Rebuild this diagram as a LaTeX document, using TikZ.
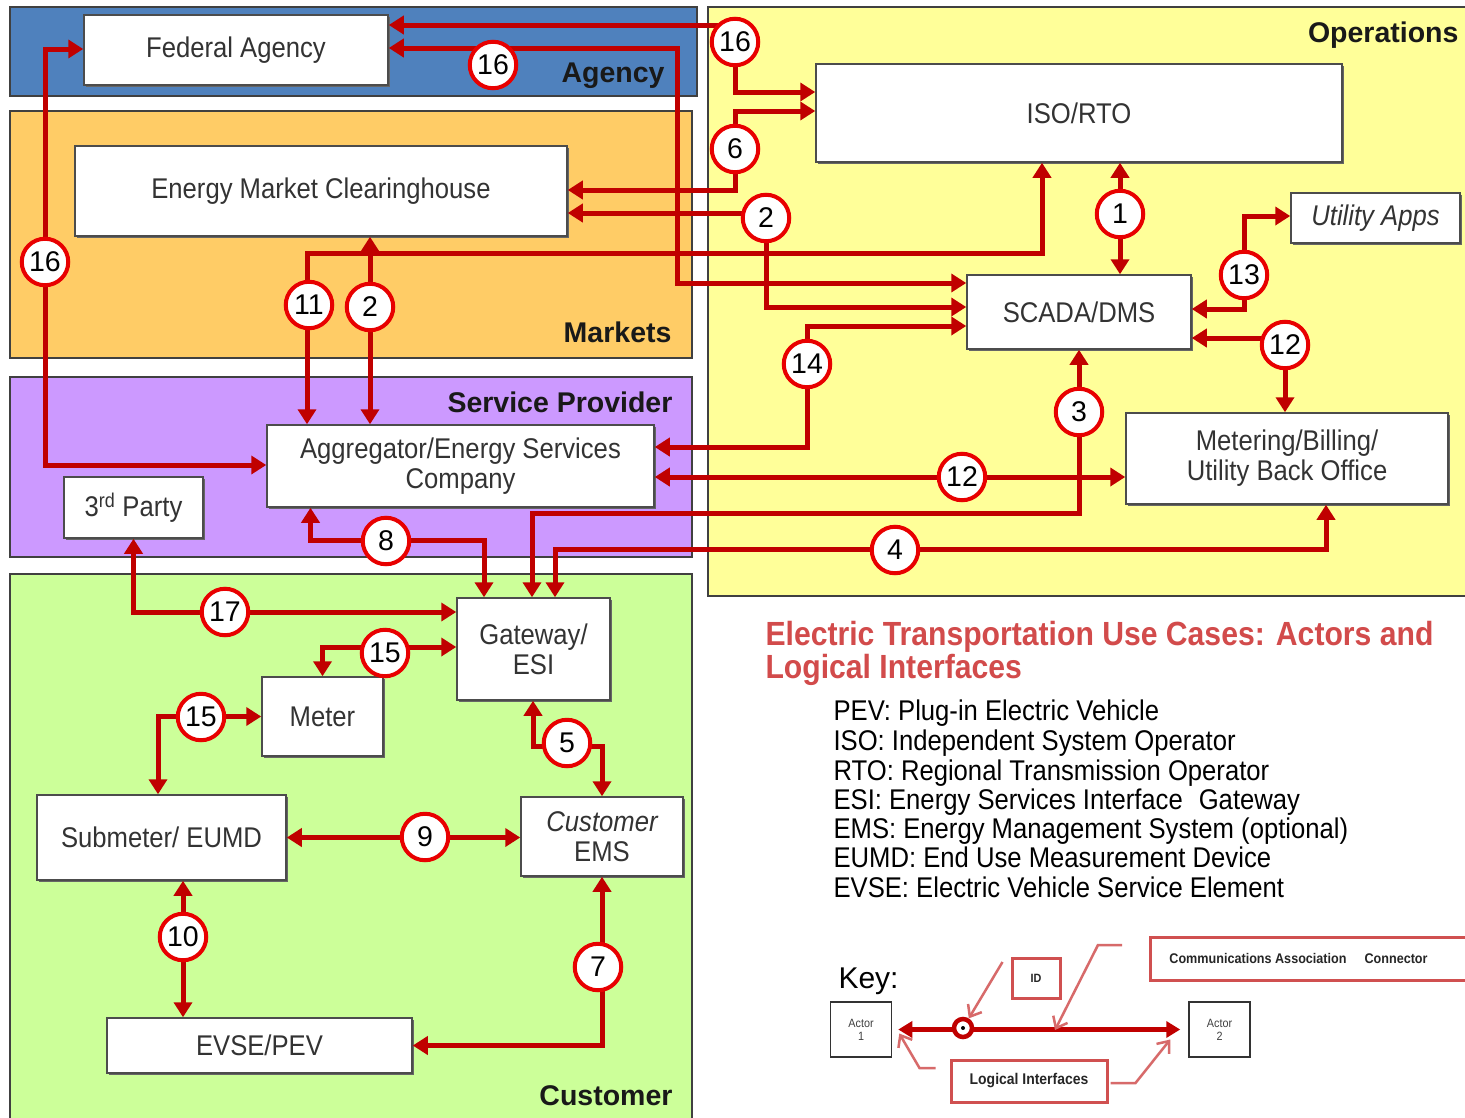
\documentclass[tikz,border=0pt]{standalone}
\usepackage{fontspec}
\setmainfont{Liberation Sans}[FakeStretch=0.9]
\newfontfamily\plainsans{Liberation Sans}
\usetikzlibrary{arrows.meta,shadows}

\definecolor{agencyblue}{HTML}{4F81BD}
\definecolor{marketorange}{HTML}{FFCC66}
\definecolor{providerpurple}{HTML}{CC99FF}
\definecolor{customergreen}{HTML}{CCFF99}
\definecolor{opsyellow}{HTML}{FFFF99}
\definecolor{linkred}{HTML}{C00000}
\definecolor{ringred}{HTML}{E80000}
\definecolor{titlered}{HTML}{D24B4B}
\definecolor{keyred}{HTML}{D05050}

\tikzset{
  panel/.style={draw=black!75, line width=1.5pt},
  zonelabel/.style={anchor=base east, text=black!90,
    font=\plainsans\bfseries\fontsize{28.5}{30}\selectfont},
  actorbox/.style={draw=black!70, line width=1.5pt, fill=white,
    drop shadow={shadow xshift=1.5pt, shadow yshift=-1.5pt, fill=black!60, opacity=1},
    align=center, inner sep=2pt, text=black!80,
    font=\fontsize{28.5}{30}\selectfont},
  >={Triangle[length=15pt,width=18pt]},
  conn/.style={draw=linkred, line width=5pt, <->},
  num/.style={circle, draw=ringred, line width=4pt, fill=white,
    minimum size=46.5pt, inner sep=0pt, text=black,
    font=\plainsans\fontsize{28.5}{28}\selectfont},
  legendline/.style={anchor=base west, text=black,
    font=\fontsize{28.5}{30}\selectfont},
  keyactor/.style={draw=black!80, line width=1.5pt, fill=white, align=center,
    minimum width=61pt, minimum height=55pt, inner sep=1pt, text=black!75,
    font=\fontsize{12}{13}\selectfont},
  keybox/.style={draw=keyred, line width=3pt, fill=white, inner sep=2pt,
    text=black!85, font=\bfseries\fontsize{12}{13}\selectfont},
  leader/.style={draw=keyred!85, line width=2.5pt,
    -{Straight Barb[length=10pt,width=16pt]}},
}

\begin{document}
\begin{tikzpicture}[x=1pt,y=-1pt]
\useasboundingbox (0,0) rectangle (1465,1117);
\fill[white] (0,0) rectangle (1465,1117);

% domains
\path[panel, fill=agencyblue]     (10,7)   rectangle (697,96);
\path[panel, fill=marketorange]   (10,111) rectangle (692,358);
\path[panel, fill=providerpurple] (10,377) rectangle (692,557);
\path[panel, fill=customergreen]  (10,574) rectangle (692,1130);
\path[panel, fill=opsyellow]      (708,7)  rectangle (1475,596);

\node[zonelabel] (lagency)   at (668,82)   {Agency};
\node[zonelabel] (lmarkets)  at (675,342)  {Markets};
\node[zonelabel] (lprovider) at (676,412)  {Service Provider};
\node[zonelabel] (lcustomer) at (676,1105) {Customer};
\node[zonelabel] (lops)      at (1462,42)  {Operations};

% actors
\node[actorbox, minimum width=304pt, minimum height=70pt] (fed)   at (236,50)      {Federal Agency};
\node[actorbox, minimum width=492pt, minimum height=90pt] (emc)   at (321,191)     {Energy Market Clearinghouse};
\node[actorbox, minimum width=526pt, minimum height=98pt] (iso)   at (1079,113)    {ISO/RTO};
\node[actorbox, minimum width=169pt, minimum height=50pt] (apps)  at (1375.5,218)  {\itshape Utility Apps};
\node[actorbox, minimum width=224pt, minimum height=74pt] (scada) at (1079,312)    {SCADA/DMS};
\node[actorbox, minimum width=322pt, minimum height=91pt] (mbo)   at (1287,458.5)  {Metering/Billing/\\Utility Back Office};
\node[actorbox, minimum width=387pt, minimum height=82pt] (agg)   at (460.5,466)   {Aggregator/Energy Services\\Company};
\node[actorbox, minimum width=139pt, minimum height=61pt] (third) at (133.5,507.5) {3\textsuperscript{rd} Party};
\node[actorbox, minimum width=153pt, minimum height=102pt] (gw)   at (533.5,649)   {Gateway/\\ESI};
\node[actorbox, minimum width=121pt, minimum height=79pt] (meter) at (322.5,716.5) {Meter};
\node[actorbox, minimum width=249pt, minimum height=85pt] (sub)   at (161.5,837.5) {Submeter/ EUMD};
\node[actorbox, minimum width=162pt, minimum height=79pt] (ems)   at (602,836.5)   {\itshape Customer\\EMS};
\node[actorbox, minimum width=305pt, minimum height=55pt] (evse)  at (259.5,1045.5) {EVSE/PEV};

% interface markers
\coordinate (n16a) at (735,42);
\coordinate (n16b) at (493,65);
\coordinate (n16c) at (45,262);
\coordinate (n6)   at (735,149);
\coordinate (n2a)  at (766,218);
\coordinate (k11)  at (307,253);
\coordinate (n11)  at (309,305);
\coordinate (n2b)  at (370,307);
\coordinate (n1)   at (1120,214);
\coordinate (n13)  at (1244,275);
\coordinate (n12r) at (1285,345);
\coordinate (n14)  at (807,364);
\coordinate (n3)   at (1079,412);
\coordinate (n12m) at (962,477);
\coordinate (n4)   at (895,550);
\coordinate (n8)   at (386,541);
\coordinate (n17)  at (225,612);
\coordinate (n15a) at (385,653);
\coordinate (n15b) at (201,717);
\coordinate (n5)   at (567,743);
\coordinate (n9)   at (425,837);
\coordinate (n10)  at (183,937);
\coordinate (n7)   at (598,967);

% logical interfaces
\draw[conn] ([yshift=25pt]fed.east) -| (n16a) |- ([yshift=21pt]iso.west);
\draw[conn] ([yshift=2pt]fed.east) -- ++(289,0) |- ([yshift=29pt]scada.west);
\draw[conn] ([yshift=1pt]fed.west) -| (n16c) |- ([yshift=1pt]agg.west);
\draw[conn] ([yshift=1pt]emc.east) -| (n6) |- ([yshift=2pt]iso.west);
\draw[conn] ([yshift=-22pt]emc.east) -| (n2a) |- ([yshift=5pt]scada.west);
\draw[conn] ([xshift=-37pt]iso.south) |- (k11) -- (k11 |- agg.north);
\draw[conn] ([xshift=49pt]emc.south) -- ([xshift=-90.5pt]agg.north);
\draw[conn] ([yshift=19pt]agg.east) -| (n14) |- ([yshift=-14pt]scada.west);
\draw[conn] ([yshift=-11pt]agg.east) -- ([yshift=-11pt]agg.east -| mbo.west);
\draw[conn] ([xshift=41pt]iso.south) -- ([xshift=41pt]scada.north);
\draw[conn] ([yshift=3pt]scada.east) -| (n13) |- ([yshift=2pt]apps.west);
\draw[conn] ([yshift=-26pt]scada.east) -| ([xshift=-2pt]mbo.north);
\draw[conn] (scada.south) -- ++(0,164) -| ([xshift=-1.5pt]gw.north);
\draw[conn] ([xshift=39pt]mbo.south) -- ++(0,45) -| ([xshift=21.5pt]gw.north);
\draw[conn] ([xshift=-150pt]agg.south) -- ++(0,33) -| ([xshift=-49.5pt]gw.north);
\draw[conn] (third.south) |- ([yshift=37pt]gw.west);
\draw[conn] (meter.north) |- ([yshift=2pt]gw.west);
\draw[conn] (meter.west) -| ([xshift=-3.5pt]sub.north);
\draw[conn] ([xshift=-0.5pt]gw.south) -- ++(0,46) -| (ems.north);
\draw[conn] (sub.east) -- (sub.east -| ems.west);
\draw[conn] ([xshift=21.5pt]sub.south) -- ([xshift=21.5pt]sub.south |- evse.north);
\draw[conn] (ems.south) |- (evse.east);

% interface numbers
\node[num] (c16a) at (n16a) {16};
\node[num] (c16b) at (n16b) {16};
\node[num] (c16c) at (n16c) {16};
\node[num] (c6)   at (n6)   {6};
\node[num] (c2a)  at (n2a)  {2};
\node[num] (c11)  at (n11)  {11};
\node[num] (c2b)  at (n2b)  {2};
\node[num] (c1)   at (n1)   {1};
\node[num] (c13)  at (n13)  {13};
\node[num] (c12r) at (n12r) {12};
\node[num] (c14)  at (n14)  {14};
\node[num] (c3)   at (n3)   {3};
\node[num] (c12m) at (n12m) {12};
\node[num] (c4)   at (n4)   {4};
\node[num] (c8)   at (n8)   {8};
\node[num] (c17)  at (n17)  {17};
\node[num] (c15a) at (n15a) {15};
\node[num] (c15b) at (n15b) {15};
\node[num] (c5)   at (n5)   {5};
\node[num] (c9)   at (n9)   {9};
\node[num] (c10)  at (n10)  {10};
\node[num] (c7)   at (n7)   {7};

% title and abbreviations
\node[anchor=base west, text=titlered, font=\bfseries\fontsize{33.5}{34}\selectfont] (title1) at (762,645) {Electric Transportation Use Cases: Actors and};
\node[anchor=base west, text=titlered, font=\bfseries\fontsize{33.5}{34}\selectfont] (title2) at (762,678) {Logical Interfaces};

\node[legendline] (g1) at (830,720) {PEV: Plug-in Electric Vehicle};
\node[legendline] (g2) at (830,750) {ISO: Independent System Operator};
\node[legendline] (g3) at (830,780) {RTO: Regional Transmission Operator};
\node[legendline] (g4) at (830,809) {ESI: Energy Services Interface\hspace{16pt}Gateway};
\node[legendline] (g5) at (830,838) {EMS: Energy Management System (optional)};
\node[legendline] (g6) at (830,867) {EUMD: End Use Measurement Device};
\node[legendline] (g7) at (830,897) {EVSE: Electric Vehicle Service Element};

% key
\node[anchor=base west, text=black, font=\plainsans\fontsize{30}{30}\selectfont] (keylbl) at (835,988) {Key:};
\node[keyactor] (a1) at (861,1029.5) {Actor\\1};
\node[keyactor] (a2) at (1219.5,1029.5) {Actor\\2};
\draw[draw=linkred, line width=5pt, {Triangle[length=14pt,width=16pt]}-{Triangle[length=14pt,width=16pt]},
  shorten <=6pt, shorten >=8pt] (a1.east) -- (a2.west);
\coordinate (kmid) at (1055,1028);
\node[circle, draw=linkred, line width=4.5pt, fill=white, minimum size=18pt, inner sep=0pt] (kid) at (963,1028) {};
\fill[black] (kid) circle (2pt);
\node[keybox, minimum width=48pt, minimum height=40pt] (idbox) at (1036,978) {ID};
\node[keybox, anchor=west, minimum width=330pt, minimum height=43pt, align=left,
  font=\bfseries\fontsize{14}{15}\selectfont] (cbox) at (1149,958.5)
  {\hspace*{-24pt}Communications Association\hspace{18pt}Connector\hspace*{10pt}};
\node[keybox, minimum width=156pt, minimum height=42pt, font=\bfseries\fontsize{15.5}{16}\selectfont] (lbox) at (1029,1081) {Logical Interfaces};
\draw[leader] ([xshift=-8pt,yshift=16pt]idbox.west) -- (kid);
\draw[leader] ([xshift=-27pt,yshift=13.5pt]cbox.west) -- ++(-24,0) -- ([yshift=-2pt]kmid);
\draw[leader] ([xshift=-14pt,yshift=13pt]lbox.west) -- ++(-16,0) -- ([xshift=7pt,yshift=-4pt]a1.east);
\draw[leader] ([xshift=2pt,yshift=-2pt]lbox.east) -- ++(25,0) -- ([xshift=-18pt,yshift=-10pt]a2.west);
\end{tikzpicture}
\end{document}
